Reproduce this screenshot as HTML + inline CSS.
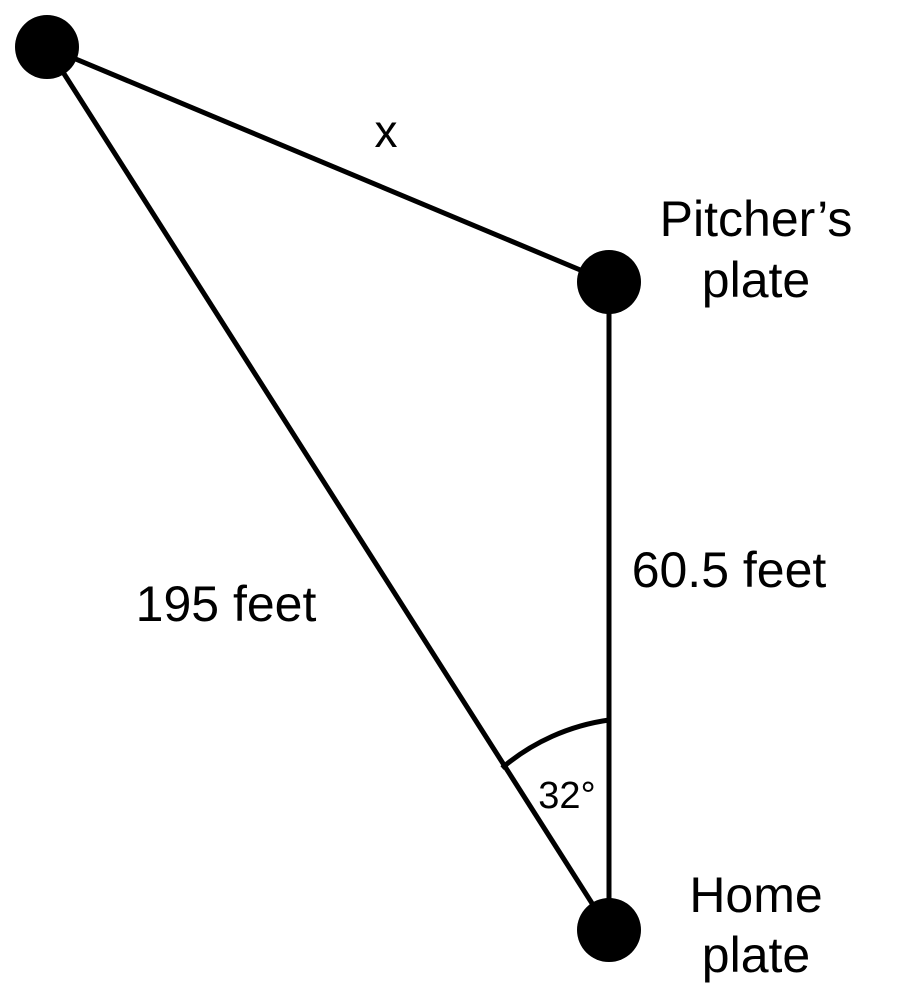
<!DOCTYPE html>
<html><head><meta charset="utf-8"><style>
html,body{margin:0;padding:0;background:#fff;}
svg{display:block;}
text{font-family:"Liberation Sans",Arial,sans-serif;fill:#000;}
</style></head><body>
<svg width="905" height="987" viewBox="0 0 905 987" xmlns="http://www.w3.org/2000/svg">
<g stroke="#000" stroke-width="5" fill="none">
<line x1="47" y1="47" x2="609" y2="282"/>
<line x1="47" y1="47" x2="609" y2="930"/>
<line x1="609" y1="282" x2="609" y2="930"/>
<path d="M609 720 A210 210 0 0 0 502 768"/>
</g>
<circle cx="47" cy="47" r="32" fill="#000"/>
<circle cx="609" cy="282" r="32" fill="#000"/>
<circle cx="609" cy="930" r="32" fill="#000"/>
<text x="386" y="147" font-size="46" text-anchor="middle">x</text>
<text x="756" y="236" font-size="50" text-anchor="middle">Pitcher’s</text>
<text x="756" y="297" font-size="50" text-anchor="middle">plate</text>
<text x="729" y="587" font-size="50" text-anchor="middle">60.5 feet</text>
<text x="226" y="621" font-size="50" text-anchor="middle">195 feet</text>
<text x="567" y="808" font-size="38" text-anchor="middle">32°</text>
<text x="756" y="912" font-size="50" text-anchor="middle">Home</text>
<text x="756" y="972" font-size="50" text-anchor="middle">plate</text>
</svg>
</body></html>
